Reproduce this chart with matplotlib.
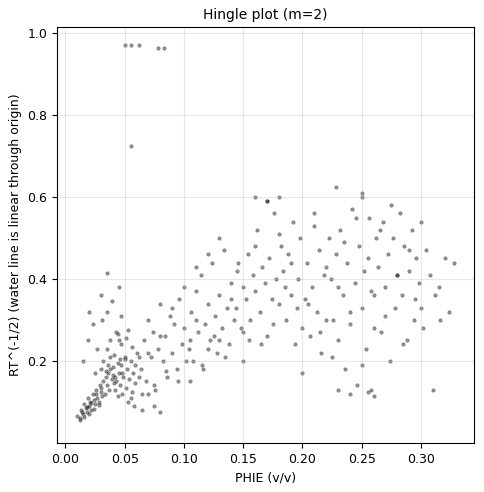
import matplotlib
matplotlib.use("Agg")
import matplotlib.pyplot as plt
import numpy as np

# PHIE (v/v) and RT^(-1/2)
phie = [
 0.010, 0.012, 0.013, 0.015, 0.016, 0.017, 0.018, 0.019, 0.020, 0.021,
 0.022, 0.023, 0.024, 0.025, 0.026, 0.027, 0.028, 0.029, 0.030, 0.031,
 0.012, 0.014, 0.016, 0.018, 0.020, 0.022, 0.024, 0.026, 0.028, 0.030,
 0.032, 0.033, 0.034, 0.035, 0.036, 0.037, 0.038, 0.039, 0.040, 0.041,
 0.030, 0.032, 0.034, 0.036, 0.038, 0.040, 0.042, 0.044, 0.046, 0.048,
 0.042, 0.043, 0.044, 0.045, 0.046, 0.047, 0.048, 0.049, 0.050, 0.051,
 0.052, 0.053, 0.054, 0.055, 0.056, 0.057, 0.058, 0.059, 0.060, 0.062,
 0.035, 0.038, 0.041, 0.044, 0.047, 0.050, 0.053, 0.056, 0.059, 0.062,
 0.015, 0.019, 0.023, 0.027, 0.031, 0.035, 0.039, 0.043, 0.047, 0.051,
 0.020, 0.025, 0.030, 0.035, 0.045, 0.055, 0.065, 0.070, 0.075, 0.080,
 0.064, 0.066, 0.068, 0.070, 0.072, 0.074, 0.076, 0.078, 0.080, 0.082,
 0.084, 0.086, 0.088, 0.090, 0.092, 0.094, 0.096, 0.098, 0.100, 0.102,
 0.065, 0.070, 0.075, 0.080, 0.085, 0.090, 0.095, 0.100, 0.105, 0.110,
 0.104, 0.106, 0.108, 0.110, 0.112, 0.114, 0.116, 0.118, 0.120, 0.122,
 0.124, 0.126, 0.128, 0.130, 0.132, 0.134, 0.136, 0.138, 0.140, 0.142,
 0.105, 0.110, 0.115, 0.120, 0.125, 0.130, 0.135, 0.140, 0.145, 0.150,
 0.144, 0.146, 0.148, 0.150, 0.152, 0.154, 0.156, 0.158, 0.160, 0.162,
 0.164, 0.166, 0.168, 0.170, 0.172, 0.174, 0.176, 0.178, 0.180, 0.182,
 0.150, 0.155, 0.160, 0.165, 0.170, 0.175, 0.180, 0.185, 0.190, 0.195,
 0.184, 0.186, 0.188, 0.190, 0.192, 0.194, 0.196, 0.198, 0.200, 0.202,
 0.204, 0.206, 0.208, 0.210, 0.212, 0.214, 0.216, 0.218, 0.220, 0.222,
 0.200, 0.205, 0.210, 0.215, 0.220, 0.225, 0.230, 0.235, 0.240, 0.245,
 0.224, 0.226, 0.228, 0.230, 0.232, 0.234, 0.236, 0.238, 0.240, 0.242,
 0.244, 0.246, 0.248, 0.250, 0.252, 0.254, 0.256, 0.258, 0.260, 0.262,
 0.250, 0.255, 0.260, 0.265, 0.270, 0.275, 0.280, 0.285, 0.290, 0.295,
 0.264, 0.266, 0.268, 0.270, 0.272, 0.274, 0.276, 0.278, 0.280, 0.282,
 0.284, 0.286, 0.288, 0.290, 0.292, 0.294, 0.296, 0.298, 0.300, 0.302,
 0.300, 0.304, 0.308, 0.312, 0.316, 0.320, 0.324, 0.328, 0.310, 0.315,
 0.160, 0.170, 0.180, 0.230, 0.240, 0.250, 0.255, 0.260, 0.120, 0.130,
 0.050, 0.055, 0.062, 0.078, 0.083, 0.055, 0.045, 0.228, 0.250, 0.258,
]
rt = [
 0.065, 0.060, 0.080, 0.070, 0.095, 0.085, 0.075, 0.110, 0.090, 0.100,
 0.080, 0.120, 0.105, 0.095, 0.130, 0.110, 0.100, 0.140, 0.125, 0.115,
 0.055, 0.075, 0.062, 0.088, 0.070, 0.098, 0.082, 0.118, 0.092, 0.135,
 0.150, 0.120, 0.160, 0.140, 0.170, 0.130, 0.180, 0.155, 0.165, 0.145,
 0.180, 0.200, 0.175, 0.190, 0.210, 0.185, 0.160, 0.195, 0.205, 0.170,
 0.130, 0.150, 0.115, 0.170, 0.140, 0.190, 0.120, 0.160, 0.210, 0.135,
 0.180, 0.100, 0.155, 0.200, 0.125, 0.170, 0.090, 0.145, 0.220, 0.160,
 0.230, 0.250, 0.215, 0.265, 0.240, 0.205, 0.275, 0.235, 0.190, 0.210,
 0.200, 0.250, 0.290, 0.230, 0.300, 0.320, 0.345, 0.270, 0.310, 0.255,
 0.320, 0.170, 0.360, 0.415, 0.380, 0.110, 0.080, 0.120, 0.090, 0.075,
 0.180, 0.250, 0.150, 0.300, 0.210, 0.270, 0.130, 0.230, 0.340, 0.200,
 0.260, 0.160, 0.310, 0.220, 0.290, 0.180, 0.350, 0.240, 0.280, 0.200,
 0.120, 0.220, 0.140, 0.260, 0.175, 0.330, 0.150, 0.380, 0.250, 0.300,
 0.230, 0.320, 0.200, 0.370, 0.270, 0.410, 0.180, 0.290, 0.340, 0.250,
 0.440, 0.310, 0.220, 0.360, 0.280, 0.470, 0.330, 0.240, 0.390, 0.300,
 0.150, 0.430, 0.190, 0.460, 0.260, 0.500, 0.210, 0.350, 0.420, 0.270,
 0.330, 0.440, 0.280, 0.380, 0.350, 0.460, 0.300, 0.410, 0.370, 0.520,
 0.320, 0.430, 0.390, 0.260, 0.450, 0.350, 0.560, 0.400, 0.340, 0.480,
 0.200, 0.250, 0.480, 0.240, 0.590, 0.290, 0.510, 0.380, 0.440, 0.330,
 0.420, 0.300, 0.460, 0.360, 0.540, 0.240, 0.400, 0.500, 0.280, 0.350,
 0.440, 0.260, 0.380, 0.530, 0.320, 0.470, 0.220, 0.410, 0.300, 0.500,
 0.170, 0.340, 0.560, 0.270, 0.430, 0.210, 0.380, 0.490, 0.320, 0.550,
 0.400, 0.300, 0.460, 0.250, 0.520, 0.360, 0.180, 0.440, 0.290, 0.570,
 0.390, 0.140, 0.480, 0.330, 0.420, 0.230, 0.550, 0.370, 0.280, 0.500,
 0.190, 0.450, 0.360, 0.520, 0.310, 0.580, 0.410, 0.240, 0.470, 0.350,
 0.430, 0.270, 0.540, 0.380, 0.460, 0.200, 0.500, 0.330, 0.410, 0.560,
 0.360, 0.480, 0.250, 0.420, 0.520, 0.300, 0.450, 0.390, 0.540, 0.280,
 0.330, 0.470, 0.410, 0.360, 0.300, 0.450, 0.320, 0.440, 0.130, 0.380,
 0.600, 0.590, 0.600, 0.130, 0.120, 0.610, 0.125, 0.115, 0.230, 0.250,
 0.970, 0.970, 0.970, 0.965, 0.965, 0.725, 0.250, 0.625, 0.600, 0.130,
]

plt.figure(figsize=(4.84, 4.92), dpi=100)
plt.scatter(phie, rt, s=6, c="black", alpha=0.4, edgecolors="black", linewidths=0.5)
plt.xlabel("PHIE (v/v)", fontsize=9)
plt.ylabel("RT^(-1/2) (water line is linear through origin)", fontsize=9)
plt.title("Hingle plot (m=2)", fontsize=10)
plt.grid(True, alpha=0.3)
plt.xlim(-0.007, 0.345)
plt.ylim(0.0, 1.015)
plt.xticks(np.arange(0, 0.31, 0.05), fontsize=9)
plt.yticks([0.2, 0.4, 0.6, 0.8, 1.0], fontsize=9)
plt.subplots_adjust(left=0.118, right=0.98, top=0.945, bottom=0.1)
plt.savefig("out.png")
